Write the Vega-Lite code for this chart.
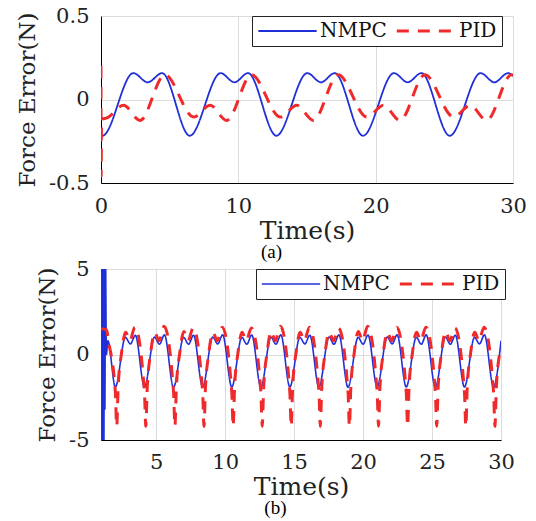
{
  "$schema": "https://vega.github.io/schema/vega-lite/v6.json",
  "background": "white",
  "padding": {"left": 16, "top": 5, "right": 5, "bottom": 0},
  "spacing": -4,
  "config": {
    "font": "DejaVu Serif",
    "view": {"stroke": null},
    "axis": {
      "labelFont": "DejaVu Serif", "titleFont": "DejaVu Serif",
      "labelFontSize": 21, "titleFontSize": 23, "titleFontWeight": "normal",
      "labelColor": "#222", "titleColor": "#222",
      "domainColor": "#000", "domainWidth": 1,
      "gridColor": "#dcdcdc", "gridWidth": 1,
      "ticks": false, "labelPadding": 12,
      "labelFlush": false, "labelOverlap": false
    },
    "legend": {
      "strokeColor": "#222", "fillColor": "white", "padding": 5,
      "labelFont": "DejaVu Serif", "labelFontSize": 20, "labelColor": "#111",
      "symbolType": "stroke", "symbolSize": 3400, "clipHeight": 20,
      "labelOffset": 2, "columnPadding": 8
    },
    "title": {"font": "Liberation Serif", "fontSize": 19, "fontWeight": "normal", "orient": "bottom", "frame": "bounds", "anchor": "middle", "offset": 0, "color": "#000"}
  },
  "datasets": {
    "a": [
      {"s":"NMPC","t":0,"v":-0.205},{"s":"NMPC","t":0.1,"v":-0.217},{"s":"NMPC","t":2.35,"v":0.158},{"s":"NMPC","t":3.4,"v":0.103},{"s":"NMPC","t":4.45,"v":0.158},
      {"s":"NMPC","t":6.46,"v":-0.217},{"s":"NMPC","t":8.71,"v":0.158},{"s":"NMPC","t":9.71,"v":0.103},{"s":"NMPC","t":10.71,"v":0.158},
      {"s":"NMPC","t":12.77,"v":-0.217},{"s":"NMPC","t":15.02,"v":0.158},{"s":"NMPC","t":16.02,"v":0.103},{"s":"NMPC","t":17.02,"v":0.158},
      {"s":"NMPC","t":19.08,"v":-0.217},{"s":"NMPC","t":21.33,"v":0.158},{"s":"NMPC","t":22.33,"v":0.103},{"s":"NMPC","t":23.33,"v":0.158},
      {"s":"NMPC","t":25.39,"v":-0.217},{"s":"NMPC","t":27.64,"v":0.158},{"s":"NMPC","t":28.64,"v":0.103},{"s":"NMPC","t":29.64,"v":0.158},{"s":"NMPC","t":30,"v":0.14},
      {"s":"PID","t":0,"v":0.2},{"s":"PID","t":0.01,"v":-0.46},{"s":"PID","t":0.04,"v":-0.12},{"s":"PID","t":0.44,"v":-0.11},{"s":"PID","t":1.64,"v":-0.035},{"s":"PID","t":2.84,"v":-0.125},{"s":"PID","t":4.65,"v":0.148},
      {"s":"PID","t":6.75,"v":-0.105},{"s":"PID","t":7.95,"v":-0.035},{"s":"PID","t":9.15,"v":-0.125},{"s":"PID","t":10.96,"v":0.148},
      {"s":"PID","t":13.06,"v":-0.105},{"s":"PID","t":14.26,"v":-0.035},{"s":"PID","t":15.46,"v":-0.125},{"s":"PID","t":17.27,"v":0.148},
      {"s":"PID","t":19.37,"v":-0.105},{"s":"PID","t":20.57,"v":-0.035},{"s":"PID","t":21.77,"v":-0.125},{"s":"PID","t":23.58,"v":0.148},
      {"s":"PID","t":25.68,"v":-0.105},{"s":"PID","t":26.88,"v":-0.035},{"s":"PID","t":28.08,"v":-0.125},{"s":"PID","t":29.89,"v":0.148},{"s":"PID","t":30,"v":0.147}
    ],
    "b": [
      {"s":"NMPC","t":1.0,"v":-5.5},{"s":"NMPC","t":1.02,"v":5.5},{"s":"NMPC","t":1.04,"v":-5.5},{"s":"NMPC","t":1.06,"v":5.5},{"s":"NMPC","t":1.08,"v":-5.5},{"s":"NMPC","t":1.1,"v":5.5},
      {"s":"NMPC","t":1.12,"v":-5.5},{"s":"NMPC","t":1.14,"v":5.5},{"s":"NMPC","t":1.16,"v":-5.5},{"s":"NMPC","t":1.18,"v":5.5},{"s":"NMPC","t":1.21,"v":-5.5},{"s":"NMPC","t":1.24,"v":5.5},
      {"s":"NMPC","t":1.28,"v":-3.2},{"s":"NMPC","t":1.33,"v":5.5},{"s":"NMPC","t":1.39,"v":0.0},{"s":"NMPC","t":1.5,"v":0.8},
      {"s":"NMPC","t":2.04,"v":-1.9},{"s":"NMPC","t":2.77,"v":1.0},{"s":"NMPC","t":3.13,"v":0.62},{"s":"NMPC","t":3.49,"v":1.12},
      {"s":"NMPC","t":4.15,"v":-1.9},{"s":"NMPC","t":4.88,"v":1.02},{"s":"NMPC","t":5.24,"v":0.6},{"s":"NMPC","t":5.6,"v":1.15},
      {"s":"NMPC","t":6.26,"v":-1.92},{"s":"NMPC","t":6.99,"v":1.0},{"s":"NMPC","t":7.35,"v":0.6},{"s":"NMPC","t":7.71,"v":1.13},
      {"s":"NMPC","t":8.37,"v":-1.9},{"s":"NMPC","t":9.1,"v":1.02},{"s":"NMPC","t":9.46,"v":0.62},{"s":"NMPC","t":9.82,"v":1.15},
      {"s":"NMPC","t":10.48,"v":-1.9},{"s":"NMPC","t":11.21,"v":1.0},{"s":"NMPC","t":11.57,"v":0.6},{"s":"NMPC","t":11.93,"v":1.14},
      {"s":"NMPC","t":12.59,"v":-1.92},{"s":"NMPC","t":13.32,"v":1.02},{"s":"NMPC","t":13.68,"v":0.6},{"s":"NMPC","t":14.04,"v":1.15},
      {"s":"NMPC","t":14.69,"v":-1.9},{"s":"NMPC","t":15.42,"v":1.0},{"s":"NMPC","t":15.78,"v":0.62},{"s":"NMPC","t":16.14,"v":1.13},
      {"s":"NMPC","t":16.8,"v":-1.9},{"s":"NMPC","t":17.53,"v":1.02},{"s":"NMPC","t":17.89,"v":0.6},{"s":"NMPC","t":18.25,"v":1.15},
      {"s":"NMPC","t":18.91,"v":-1.92},{"s":"NMPC","t":19.64,"v":1.0},{"s":"NMPC","t":20.0,"v":0.6},{"s":"NMPC","t":20.36,"v":1.14},
      {"s":"NMPC","t":21.02,"v":-1.9},{"s":"NMPC","t":21.75,"v":1.02},{"s":"NMPC","t":22.11,"v":0.62},{"s":"NMPC","t":22.47,"v":1.15},
      {"s":"NMPC","t":23.13,"v":-1.9},{"s":"NMPC","t":23.86,"v":1.0},{"s":"NMPC","t":24.22,"v":0.6},{"s":"NMPC","t":24.58,"v":1.15},
      {"s":"NMPC","t":25.24,"v":-1.92},{"s":"NMPC","t":25.97,"v":1.02},{"s":"NMPC","t":26.33,"v":0.6},{"s":"NMPC","t":26.69,"v":1.13},
      {"s":"NMPC","t":27.35,"v":-1.9},{"s":"NMPC","t":28.08,"v":1.0},{"s":"NMPC","t":28.44,"v":0.62},{"s":"NMPC","t":28.8,"v":1.15},
      {"s":"NMPC","t":29.46,"v":-1.9},{"s":"NMPC","t":30.0,"v":0.8},
      {"s":"PID","t":1.0,"v":1.5},{"s":"PID","t":1.4,"v":1.45},{"s":"PID","t":1.55,"v":0.75},
      {"s":"PID","t":2.04,"v":-2.2},{"s":"PID","t":2.14,"v":-4.2},{"s":"PID","t":2.24,"v":-2.0},{"s":"PID","t":2.49,"v":0.1},{"s":"PID","t":2.79,"v":1.3},{"s":"PID","t":3.09,"v":0.8},{"s":"PID","t":3.46,"v":1.6},
      {"s":"PID","t":4.15,"v":-2.2},{"s":"PID","t":4.25,"v":-4.2},{"s":"PID","t":4.35,"v":-2.0},{"s":"PID","t":4.6,"v":0.1},{"s":"PID","t":4.9,"v":1.3},{"s":"PID","t":5.2,"v":0.8},{"s":"PID","t":5.57,"v":1.65},
      {"s":"PID","t":6.26,"v":-2.2},{"s":"PID","t":6.36,"v":-4.2},{"s":"PID","t":6.46,"v":-2.0},{"s":"PID","t":6.71,"v":0.1},{"s":"PID","t":7.01,"v":1.35},{"s":"PID","t":7.31,"v":0.8},{"s":"PID","t":7.68,"v":1.55},
      {"s":"PID","t":8.37,"v":-2.2},{"s":"PID","t":8.47,"v":-4.2},{"s":"PID","t":8.57,"v":-2.0},{"s":"PID","t":8.82,"v":0.1},{"s":"PID","t":9.12,"v":1.3},{"s":"PID","t":9.42,"v":0.8},{"s":"PID","t":9.79,"v":1.6},
      {"s":"PID","t":10.48,"v":-2.2},{"s":"PID","t":10.58,"v":-4.2},{"s":"PID","t":10.68,"v":-2.0},{"s":"PID","t":10.93,"v":0.1},{"s":"PID","t":11.23,"v":1.3},{"s":"PID","t":11.53,"v":0.8},{"s":"PID","t":11.9,"v":1.55},
      {"s":"PID","t":12.59,"v":-2.2},{"s":"PID","t":12.69,"v":-4.2},{"s":"PID","t":12.79,"v":-2.0},{"s":"PID","t":13.04,"v":0.1},{"s":"PID","t":13.34,"v":1.35},{"s":"PID","t":13.64,"v":0.8},{"s":"PID","t":14.01,"v":1.65},
      {"s":"PID","t":14.69,"v":-2.2},{"s":"PID","t":14.79,"v":-4.2},{"s":"PID","t":14.89,"v":-2.0},{"s":"PID","t":15.14,"v":0.1},{"s":"PID","t":15.44,"v":1.3},{"s":"PID","t":15.74,"v":0.8},{"s":"PID","t":16.11,"v":1.6},
      {"s":"PID","t":16.8,"v":-2.2},{"s":"PID","t":16.9,"v":-4.2},{"s":"PID","t":17.0,"v":-2.0},{"s":"PID","t":17.25,"v":0.1},{"s":"PID","t":17.55,"v":1.3},{"s":"PID","t":17.85,"v":0.8},{"s":"PID","t":18.22,"v":1.55},
      {"s":"PID","t":18.91,"v":-2.2},{"s":"PID","t":19.01,"v":-4.2},{"s":"PID","t":19.11,"v":-2.0},{"s":"PID","t":19.36,"v":0.1},{"s":"PID","t":19.66,"v":1.35},{"s":"PID","t":19.96,"v":0.8},{"s":"PID","t":20.33,"v":1.65},
      {"s":"PID","t":21.02,"v":-2.2},{"s":"PID","t":21.12,"v":-4.2},{"s":"PID","t":21.22,"v":-2.0},{"s":"PID","t":21.47,"v":0.1},{"s":"PID","t":21.77,"v":1.3},{"s":"PID","t":22.07,"v":0.8},{"s":"PID","t":22.44,"v":1.6},
      {"s":"PID","t":23.13,"v":-2.2},{"s":"PID","t":23.23,"v":-4.2},{"s":"PID","t":23.33,"v":-2.0},{"s":"PID","t":23.58,"v":0.1},{"s":"PID","t":23.88,"v":1.3},{"s":"PID","t":24.18,"v":0.8},{"s":"PID","t":24.55,"v":1.6},
      {"s":"PID","t":25.24,"v":-2.2},{"s":"PID","t":25.34,"v":-4.2},{"s":"PID","t":25.44,"v":-2.0},{"s":"PID","t":25.69,"v":0.1},{"s":"PID","t":25.99,"v":1.35},{"s":"PID","t":26.29,"v":0.8},{"s":"PID","t":26.66,"v":1.55},
      {"s":"PID","t":27.35,"v":-2.2},{"s":"PID","t":27.45,"v":-4.2},{"s":"PID","t":27.55,"v":-2.0},{"s":"PID","t":27.8,"v":0.1},{"s":"PID","t":28.1,"v":1.3},{"s":"PID","t":28.4,"v":0.8},{"s":"PID","t":28.77,"v":1.6},
      {"s":"PID","t":29.46,"v":-2.2},{"s":"PID","t":29.56,"v":-4.2},{"s":"PID","t":29.66,"v":-2.0},{"s":"PID","t":29.91,"v":0.1},{"s":"PID","t":30.0,"v":0.45}
    ]
  },
  "vconcat": [
    {
      "width": 412, "height": 167,
      "title": {"text": "(a)", "offset": 0},
      "data": {"name": "a"},
      "mark": {"type": "line", "interpolate": "monotone", "clip": true},
      "encoding": {
        "x": {"field": "t", "type": "quantitative", "scale": {"domain": [0, 30], "nice": false},
              "axis": {"values": [0, 10, 20, 30], "title": "Time(s)", "titleFontSize": 25, "titlePadding": 2}},
        "y": {"field": "v", "type": "quantitative", "scale": {"domain": [-0.5, 0.5], "nice": false},
              "axis": {"values": [-0.5, 0, 0.5], "title": "Force Error(N)", "labelExpr": "'' + datum.value", "titlePadding": 9}},
        "color": {"field": "s", "type": "nominal", "scale": {"domain": ["NMPC", "PID"], "range": ["#2030d8", "#f02a2a"]},
                  "legend": {"orient": "none", "legendX": 151, "legendY": 0, "direction": "horizontal", "title": null}},
        "strokeDash": {"field": "s", "type": "nominal", "scale": {"domain": ["NMPC", "PID"], "range": [[1, 0], [12, 9]]},
                  "legend": {"orient": "none", "legendX": 151, "legendY": 0, "direction": "horizontal", "title": null}},
        "strokeWidth": {"field": "s", "type": "ordinal", "scale": {"domain": ["NMPC", "PID"], "range": [1.8, 3]},
                  "legend": {"orient": "none", "legendX": 151, "legendY": 0, "direction": "horizontal", "title": null}}
      }
    },
    {
      "width": 400, "height": 171,
      "title": {"text": "(b)", "offset": 0},
      "data": {"name": "b"},
      "mark": {"type": "line", "interpolate": "monotone", "clip": true},
      "encoding": {
        "x": {"field": "t", "type": "quantitative", "scale": {"domain": [1, 30], "nice": false},
              "axis": {"values": [5, 10, 15, 20, 25, 30], "title": "Time(s)", "titleFontSize": 25, "titlePadding": 2, "labelPadding": 11}},
        "y": {"field": "v", "type": "quantitative", "scale": {"domain": [-5, 5], "nice": false},
              "axis": {"values": [-5, 0, 5], "title": "Force Error(N)", "labelExpr": "'' + datum.value", "titlePadding": 9}},
        "color": {"field": "s", "type": "nominal", "scale": {"domain": ["NMPC", "PID"], "range": ["#2030d8", "#f02a2a"]},
                  "legend": {"orient": "none", "legendX": 155, "legendY": 0, "direction": "horizontal", "title": null}},
        "strokeDash": {"field": "s", "type": "nominal", "scale": {"domain": ["NMPC", "PID"], "range": [[1, 0], [12, 9]]},
                  "legend": {"orient": "none", "legendX": 155, "legendY": 0, "direction": "horizontal", "title": null}},
        "strokeWidth": {"field": "s", "type": "ordinal", "scale": {"domain": ["NMPC", "PID"], "range": [1.6, 3]},
                  "legend": {"orient": "none", "legendX": 155, "legendY": 0, "direction": "horizontal", "title": null}}
      }
    }
  ],
  "resolve": {"scale": {"color": "independent", "strokeDash": "independent", "strokeWidth": "independent"}, "legend": {"color": "independent", "strokeDash": "independent", "strokeWidth": "independent"}}
}
